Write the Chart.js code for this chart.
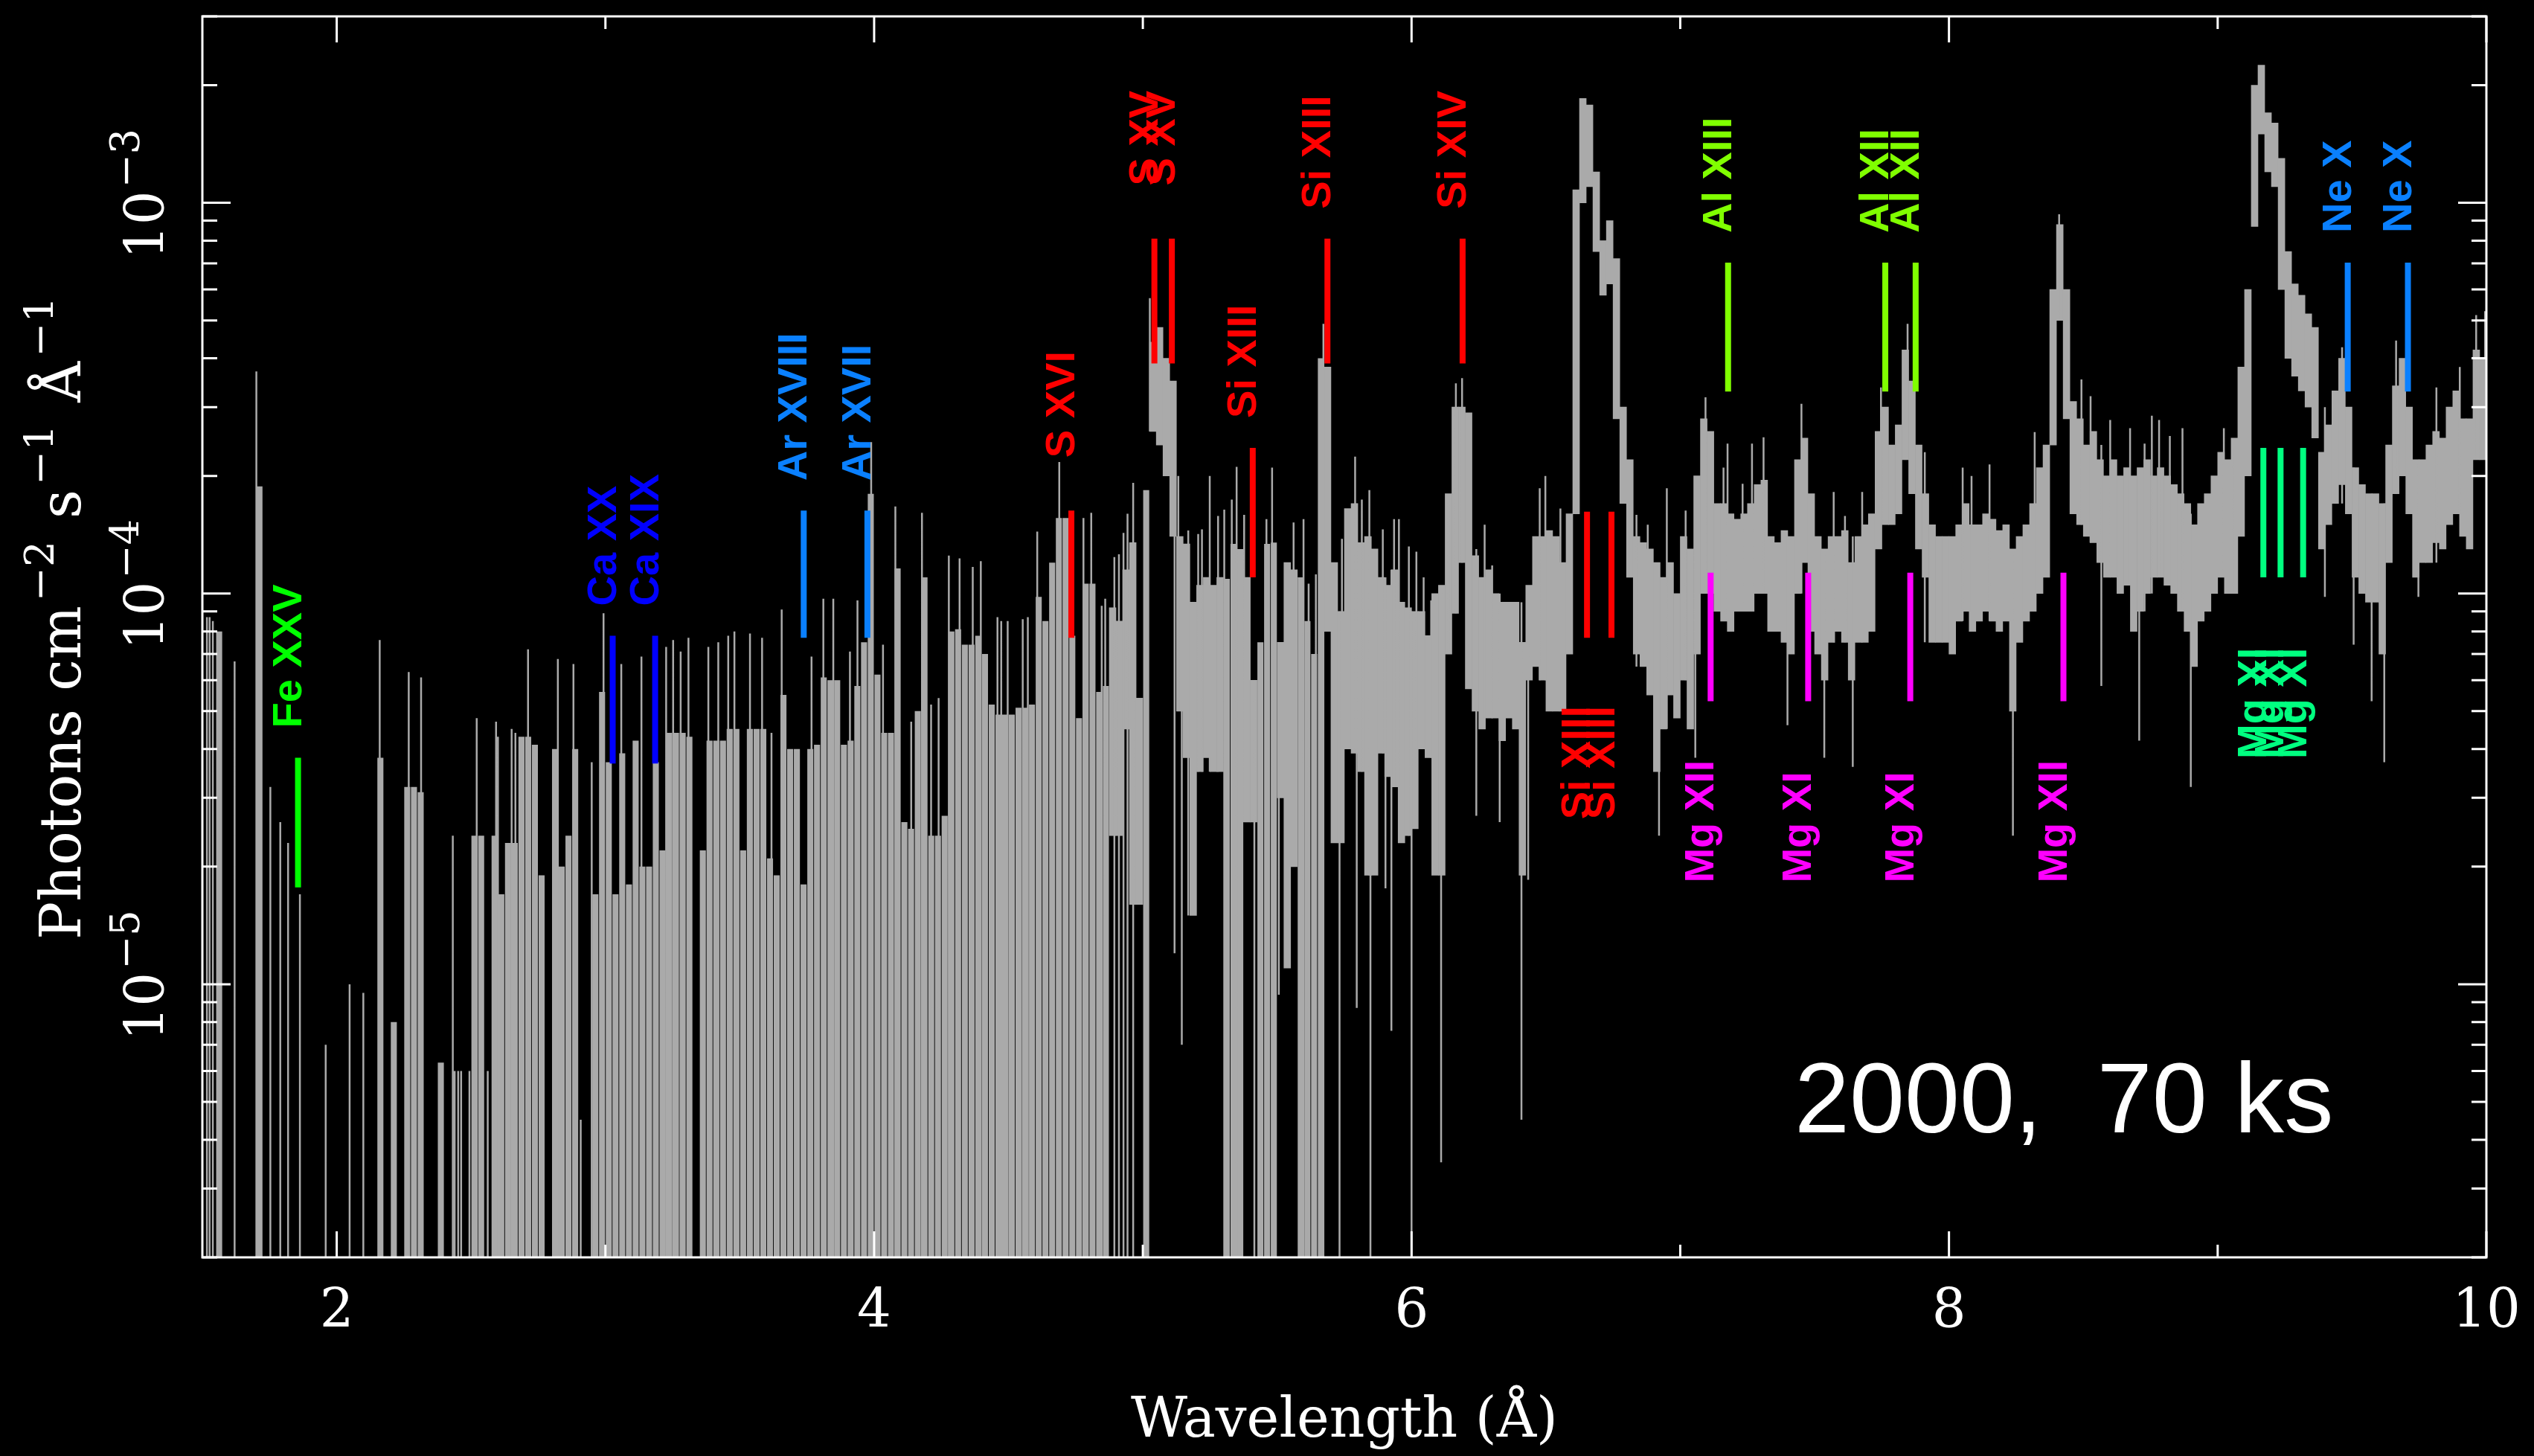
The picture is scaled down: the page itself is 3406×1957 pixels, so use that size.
<!DOCTYPE html>
<html lang="en">
<head>
<meta charset="UTF-8">
<title>Spectrum 2000, 70 ks</title>
<style>
  html, body { margin: 0; padding: 0; background: #000; }
  #wrap { width: 3406px; height: 1957px; }
</style>
</head>
<body>
<div id="wrap"><canvas id="spec" width="3406" height="1957"></canvas></div>
<script src="https://cdn.jsdelivr.net/npm/chart.js@4"></script>
<script>
// spectrum, binned at 0.025 A from 1.5 A; fluxes in units of 1e-5 photons cm^-2 s^-1 A^-1
// each bin is drawn as its error range [lo, hi]; lo = 0 means the bar runs off the bottom
const binStart = 1.5;
const binWidth = 0.025;
const fluxUnit = 1e-5;

const bandHi = [
  null, null, 8, null, null, null, null, null, 18.8, null,        // 1.50
  null, null, null, null, null, null, null, null, null, null,     // 1.75
  null, null, null, null, null, null, 3.8, null, 0.8, null,       // 2.00
  3.2, 3.2, 3.1, null, null, 0.63, null, null, null, null,        // 2.25
  2.4, 2.4, null, 2.4, 1.7, 2.3, 2.3, 4.3, 4.3, 4.1,              // 2.50
  1.9, null, 4.0, 2.0, 2.4, 4.0, null, null, 1.7, 5.6,            // 2.75
  3.7, 1.7, 3.9, 1.8, 4.2, 2.0, 2.0, 3.7, 2.2, 4.4,               // 3.00
  4.4, 4.4, 4.3, null, 2.2, 4.2, 4.2, 4.2, 4.5, 4.5,              // 3.25
  2.2, 4.5, 4.5, 4.5, 2.1, 1.9, 5.5, 4.0, 4.0, 1.8,               // 3.50
  4.0, 4.1, 6.1, 6.0, 6.0, 4.1, 4.2, 5.8, 7.5, 18,                // 3.75
  6.2, 4.4, 4.4, 11.6, 2.6, 2.5, 5.0, 11.0, 2.4, 2.4,             // 4.00
  2.7, 8.0, 8.1, 7.4, 7.4, 7.8, 7.0, 5.2, 4.9, 4.9,               // 4.25
  4.9, 5.1, 5.1, 5.2, 9.8, 8.5, 12, 15.6, 15.6, 7.8,              // 4.50
  4.8, 10.6, 10.6, 5.6, 5.8, 9.2, 8.5, 11.5, 13.5, 5.4,           // 4.75
  18.4, 44, 48, 40, 35, 14, 13.4, 9.5, 10.5, 11,                  // 5.00
  10.5, 11, 10.9, 13.4, 13, 11, 6.0, 7.5, 13.4, 13.5,             // 5.25
  7.5, 12, 11.5, 11, 8.5, 7, 40, 38, 12, 9,                       // 5.50
  16.5, 17, 13.5, 14, 13, 11, 10.5, 11.5, 9.5, 9.2,               // 5.75
  9, 9, 7.8, 10, 10.5, 18, 30, 30, 29, 12.5,                      // 6.00
  11, 11.5, 10, 9.5, 9.5, 9.5, 7.5, 10.5, 14, 14,                 // 6.25
  14.5, 14, 12, 16, 108, 185, 178, 120, 80, 90,                   // 6.50
  72, 30, 22, 14, 13.5, 13, 12, 11, 12, 10,                       // 6.75
  14, 13, 20, 28, 26, 17, 17, 16, 15.5, 16,                       // 7.00
  17, 19, 19.5, 14, 13.5, 14.5, 14, 22, 25, 18,                   // 7.25
  14, 13, 14, 14, 14.5, 12, 14, 15, 16, 26,                       // 7.50
  30, 24, 27, 42, 35, 24, 18, 15, 14, 14,                         // 7.75
  14, 15, 17, 15, 15, 16, 15.5, 14.5, 15, 13,                     // 8.00
  14, 15, 17, 21, 24, 60, 88, 60, 31, 28,                         // 8.25
  24, 26, 22, 20, 22, 20, 21, 20, 21, 22,                         // 8.50
  20, 21, 20, 19, 18, 17, 15, 17, 18, 20,                         // 8.75
  23, 22, 25, 38, 60, 200, 225, 170, 160, 130,                    // 9.00
  75, 62, 58, 52, 48, 23, 27, 33, 40, 30,                         // 9.25
  21, 19, 18, 18, 17, 24, 34, 40, 30, 22,                         // 9.50
  22, 24, 26, 25, 30, 33, 28, 28, 42, 40                          // 9.75
];

const bandLo = [
  0, 0, 0, 0, 0, 0, 0, 0, 0, 0,             // 1.50
  0, 0, 0, 0, 0, 0, 0, 0, 0, 0,             // 1.75
  0, 0, 0, 0, 0, 0, 0, 0, 0, 0,             // 2.00
  0, 0, 0, 0, 0, 0, 0, 0, 0, 0,             // 2.25
  0, 0, 0, 0, 0, 0, 0, 0, 0, 0,             // 2.50
  0, 0, 0, 0, 0, 0, 0, 0, 0, 0,             // 2.75
  0, 0, 0, 0, 0, 0, 0, 0, 0, 0,             // 3.00
  0, 0, 0, 0, 0, 0, 0, 0, 0, 0,             // 3.25
  0, 0, 0, 0, 0, 0, 0, 0, 0, 0,             // 3.50
  0, 0, 0, 0, 0, 0, 0, 0, 0, 0,             // 3.75
  0, 0, 0, 0, 0, 0, 0, 0, 0, 0,             // 4.00
  0, 0, 0, 0, 0, 0, 0, 0, 0, 0,             // 4.25
  0, 0, 0, 0, 0, 0, 0, 0, 0, 0,             // 4.50
  0, 0, 0, 0, 0, 2.4, 2.4, 4.5, 1.6, 1.6,   // 4.75
  0, 26, 24, 20, 14, 5, 3.8, 1.5, 3.5, 3.8, // 5.00
  3.5, 3.5, 0, 0, 0, 2.6, 2.6, 0, 0, 0,     // 5.25
  3, 1.1, 2, 0, 0, 0, 0, 8, 2.3, 2.3,       // 5.50
  4, 3.9, 3.5, 1.9, 1.9, 3.9, 3.4, 3.2, 2.3, 2.4, // 5.75
  2.5, 4, 3.8, 1.9, 1.9, 7, 8.9, 12, 5.7, 5,      // 6.00
  4.5, 4.8, 4.8, 4.2, 4.8, 4.5, 1.9, 6, 6.5, 6,   // 6.25
  5, 5, 5, 7, 16, 100, 110, 75, 58, 62,           // 6.50
  28, 17, 11, 7, 6.5, 5.5, 3.5, 4.5, 5.5, 4.8,    // 6.75
  6, 4.5, 7, 10, 10, 9, 8.5, 8, 9, 9,             // 7.00
  9, 10, 10, 8, 8, 7.5, 7, 10, 12, 8,             // 7.25
  7, 6, 7.5, 8, 7.5, 6, 7.5, 7.5, 8, 13,          // 7.50
  15, 15, 16, 22, 18, 13, 11, 7.5, 7.5, 7.5,      // 7.75
  7, 8.5, 9, 8, 8.5, 9, 8.5, 8, 8.5, 5,           // 8.00
  7.5, 8.5, 9, 10, 11, 24, 50, 28, 16, 15,        // 8.25
  14, 13.5, 12, 11, 11, 10, 10.5, 8, 9, 10,       // 8.50
  11, 11, 10.5, 10, 9, 8, 6.5, 8.5, 9, 10,        // 8.75
  11, 10, 10, 14, 20, 87, 150, 120, 110, 60,      // 9.00
  40, 36, 33, 30, 25, 13, 15, 17, 19, 16,         // 9.25
  11, 10, 9.5, 9.5, 7, 12, 18, 20, 16, 11,        // 9.50
  12, 12, 13.5, 13, 15, 16, 14, 13, 22, 22        // 9.75
];

// single narrow bins whose error bars stick out of the band
const spikeWave = [
  1.517, 1.527, 1.539, 1.620, 1.701, 1.753, 1.790, 1.819, 1.863, 1.959,
  2.048, 2.099, 2.160, 2.268, 2.314, 2.432, 2.439, 2.452, 2.463, 2.494,
  2.521, 2.562, 2.593, 2.600, 2.651, 2.665, 2.712, 2.823, 2.881, 2.908,
  2.949, 2.993, 3.059, 3.134, 3.226, 3.252, 3.280, 3.309, 3.383, 3.420,
  3.457, 3.480, 3.538, 3.583, 3.618, 3.656, 3.767, 3.811, 3.848, 3.910,
  3.938, 3.989, 4.033, 4.079, 4.138, 4.178, 4.212, 4.240, 4.278, 4.318,
  4.367, 4.397, 4.459, 4.473, 4.497, 4.553, 4.572, 4.607, 4.689, 4.779,
  4.808, 4.847, 4.860, 4.894, 4.911, 4.928, 4.943, 4.964, 5.026, 5.118,
  5.132, 5.145, 5.169, 5.206, 5.220, 5.249, 5.280, 5.303, 5.331, 5.349,
  5.377, 5.415, 5.460, 5.481, 5.506, 5.561, 5.598, 5.617, 5.644, 5.672,
  5.732, 5.741, 5.790, 5.796, 5.815, 5.843, 5.847, 5.893, 5.903, 5.925,
  5.935, 5.953, 5.990, 6.000, 6.018, 6.045, 6.073, 6.110, 6.138, 6.165,
  6.188, 6.241, 6.272, 6.300, 6.328, 6.409, 6.434, 6.477, 6.498, 6.554,
  6.837, 6.879, 6.921, 6.950, 7.020, 7.056, 7.094, 7.161, 7.176, 7.232,
  7.267, 7.310, 7.399, 7.451, 7.536, 7.571, 7.613, 7.642, 7.677, 7.747,
  7.846, 7.910, 8.051, 8.084, 8.151, 8.238, 8.319, 8.410, 8.493, 8.527,
  8.567, 8.600, 8.674, 8.708, 8.728, 8.755, 8.782, 8.822, 8.869, 8.900,
  9.023, 9.057, 9.399, 9.463, 9.506, 9.573, 9.620, 9.664, 9.747, 9.814,
  9.901, 9.962, 9.995
];
const spikeHi = [
  8.7, 8.7, 8.5, 6.7, 37, 3.2, 2.6, 2.3, 1.7, 0.7,
  1.0, 0.95, 7.6, 6.3, 6.1, 2.4, 0.6, 0.6, 0.6, 0.6,
  4.8, 0.6, 4.7, 4.3, 4.5, 4.4, 7.2, 6.8, 6.6, 0.45,
  3.7, 8.9, 6.6, 6.9, 7.3, 7.6, 7.1, 7.7, 7.3, 7.5,
  7.8, 8.0, 7.9, 7.7, 4.4, 9.1, 6.9, 9.7, 9.7, 7.1,
  9.6, 24.4, 7.4, 16.7, 4.7, 16.1, 5.2, 5.4, 12.5, 12.3,
  11.7, 12.1, 8.7, 8.5, 8.5, 8.6, 8.7, 14.4, 21.7, 15.6,
  16.1, 9.3, 9.7, 12.4, 12.6, 14.3, 16, 19.2, 57, 14,
  20, 13, 14.5, 14.2, 14.6, 20, 15.8, 16.4, 17.4, 21.1,
  15.9, 6, 15.5, 21, 7.5, 15.2, 15.5, 10.6, 11.2, 49,
  9, 13.8, 22.4, 17, 17.4, 18.4, 14, 14.6, 11, 11.5,
  15.5, 15.5, 13.2, 9, 12.8, 11, 9.6, 10, 17.4, 34.5,
  35.6, 13, 15, 11.8, 10, 9.5, 7.5, 18.6, 20, 16.5,
  15.9, 15, 12, 18.6, 16.3, 13, 31.8, 21, 24.2, 19.1,
  24.2, 25.1, 14, 30.6, 13, 18.2, 15.8, 14, 18.2, 33.7,
  49, 23, 21, 20, 21.4, 13, 25.9, 93.5, 35.3, 32,
  24, 27.8, 26.5, 20, 24.2, 28.5, 27.8, 25.3, 26.5, 16,
  26.5, 23.6, 30, 42.7, 21, 18, 17, 44.4, 22, 33.7,
  38, 51.6, 52.8
];
const spikeLo = [
  0, 0, 0, 0, 0, 0, 0, 0, 0, 0,
  0, 0, 0, 0, 0, 0, 0, 0, 0, 0,
  0, 0, 0, 0, 0, 0, 0, 0, 0, 0,
  0, 0, 0, 0, 0, 0, 0, 0, 0, 0,
  0, 0, 0, 0, 0, 0, 0, 0, 0, 0,
  0, 0, 0, 0, 0, 0, 0, 0, 0, 0,
  0, 0, 0, 0, 0, 0, 0, 0, 0, 0,
  0, 0, 0, 0, 0, 0, 0, 0, 26, 1.2,
  5, 0.7, 1.5, 3.5, 3.5, 3.5, 3.5, 0, 0, 0,
  2.6, 0, 0, 0, 0.94, 2, 0, 0, 0, 0,
  0, 2.3, 4, 0.87, 3.5, 1.9, 0, 3.9, 1.76, 0.76,
  3.2, 2.3, 2.4, 0, 2.5, 4, 3.8, 0.35, 7, 8.9,
  12, 2.7, 4.8, 4.8, 2.6, 0.45, 1.85, 6, 6, 5,
  6.5, 5.5, 2.4, 4.5, 6, 3.8, 10, 9, 8.5, 9,
  9, 10, 4.6, 10, 3.8, 7.5, 7.5, 3.6, 7.5, 13,
  22, 7.5, 8.5, 8.5, 8.5, 2.4, 10, 50, 15, 13.5,
  5.8, 11, 10.5, 4.2, 9, 10, 11, 10.5, 9, 3.2,
  11, 10, 9.8, 17, 7.4, 5.3, 3.7, 18, 9.8, 12,
  16, 22, 22
];

// line identifications
const GREEN = '#00ff00', BLUE = '#0000ff', SKY = '#0a80ff', RED = '#ff0000',
      LIME = '#80ff00', MAGENTA = '#ff00ff', SPRING = '#00ff80';
const lineNames = ['Fe XXV', 'Ca XX', 'Ca XIX', 'Ar XVIII', 'Ar XVII', '  S XVI', '  S XV', '  S XV',
  'Si XIII', 'Si XIII', 'Si XIV', 'Si XIII', 'Si XIII', 'Mg XII', 'Al XIII', 'Mg XI', 'Al XII',
  'Mg XI', 'Al XII', 'Mg XII', 'Mg XI', 'Mg XI', 'Mg XI', 'Ne X', 'Ne X'];
const lineWaves = [1.856, 3.027, 3.185, 3.738, 3.975, 4.734, 5.043, 5.108, 5.409, 5.687, 6.190,
  6.653, 6.744, 7.113, 7.178, 7.476, 7.763, 7.856, 7.876, 8.426, 9.170, 9.234, 9.318, 9.484, 9.708];
const lineLo = [1.77, 3.67, 3.67, 7.7, 7.7, 7.7, 38.8, 38.8, 11.0, 38.8, 38.8, 7.7, 7.7, 5.3, 32.9,
  5.3, 32.9, 5.3, 32.9, 5.3, 11.0, 11.0, 11.0, 32.9, 32.9];
const lineHi = [3.8, 7.8, 7.8, 16.3, 16.3, 16.3, 81, 81, 23.6, 81, 81, 16.2, 16.2, 11.3, 70.3,
  11.3, 70.3, 11.3, 70.3, 11.3, 23.6, 23.6, 23.6, 70.3, 70.3];
const lineColors = [GREEN, BLUE, BLUE, SKY, SKY, RED, RED, RED, RED, RED, RED, RED, RED, MAGENTA, LIME,
  MAGENTA, LIME, MAGENTA, LIME, MAGENTA, SPRING, SPRING, SPRING, SKY, SKY];
const lineSide = ['up', 'up', 'up', 'up', 'up', 'up', 'up', 'up', 'up', 'up', 'up', 'down', 'down',
  'down', 'up', 'down', 'up', 'down', 'up', 'down', 'down', 'down', 'down', 'up', 'up'];

const xTickValues = [2, 4, 6, 8, 10];
const xTickLabels = ['2', '4', '6', '8', '10'];
const yTickExponents = [-5, -4, -3];
const xTitle = 'Wavelength (Å)';
const yTitleParts = [['Photons cm', 0], ['−2', 1], [' s', 0], ['−1', 1], [' Å', 0], ['−1', 1]];
const note = '2000,  70 ks';

const FLOOR = 1e-7; // below the axis, so zero-reaching bars run off the bottom
function flux(v) { return v > 0 ? v * fluxUnit : FLOOR; }

// bins whose error bar reaches zero are drawn a touch narrower, leaving thin dark seams
const openBins = [];
const closedBins = [];
bandHi.forEach((hi, i) => {
  if (hi === null) return;
  const pt = { x: binStart + binWidth * (i + 0.5), y: [flux(bandLo[i]), flux(hi)] };
  (bandLo[i] > 0 ? closedBins : openBins).push(pt);
});

const spikeData = [];
spikeWave.forEach((w, i) => {
  spikeData.push({ x: w, y: flux(spikeLo[i]) }, { x: w, y: flux(spikeHi[i]) }, { x: w, y: null });
});

const markerData = [];
lineWaves.forEach((w, i) => {
  markerData.push({ x: w, y: flux(lineLo[i]) }, { x: w, y: flux(lineHi[i]) }, { x: w, y: null });
});

const SERIF = '"DejaVu Serif", serif';

const framePlugin = {
  id: 'frame',
  afterDatasetsDraw(chart) {
    const { ctx, chartArea: a, scales: { x, y } } = chart;
    ctx.save();
    ctx.strokeStyle = '#fff';
    ctx.fillStyle = '#fff';
    ctx.lineWidth = 3;
    ctx.strokeRect(a.left, a.top, a.right - a.left, a.bottom - a.top);

    // x ticks, inward on top and bottom
    ctx.beginPath();
    for (let v = 2; v <= 10; v++) {
      const px = x.getPixelForValue(v);
      const len = v % 2 === 0 ? 35 : 17;
      ctx.moveTo(px, a.bottom); ctx.lineTo(px, a.bottom - len);
      ctx.moveTo(px, a.top); ctx.lineTo(px, a.top + len);
    }
    // y ticks, log decades with minor ticks, both sides
    for (let e = -6; e <= -3; e++) {
      for (let m = 1; m <= 9; m++) {
        const v = m * Math.pow(10, e);
        if (v < y.min * 0.999 || v > y.max * 1.001) continue;
        const py = y.getPixelForValue(v);
        const len = m === 1 ? 38 : 20;
        ctx.moveTo(a.left, py); ctx.lineTo(a.left + len, py);
        ctx.moveTo(a.right, py); ctx.lineTo(a.right - len, py);
      }
    }
    ctx.stroke();

    // x tick labels and title
    ctx.textAlign = 'center';
    ctx.textBaseline = 'alphabetic';
    ctx.font = '72px ' + SERIF;
    xTickValues.forEach((v, i) => ctx.fillText(xTickLabels[i], x.getPixelForValue(v), a.bottom + 94));
    ctx.font = '74px ' + SERIF;
    ctx.fillText(xTitle, (a.left + a.right) / 2, a.bottom + 241);

    // y tick labels, rotated, 10 with superscript exponent
    ctx.textAlign = 'left';
    yTickExponents.forEach(e => {
      const py = y.getPixelForValue(Math.pow(10, e));
      ctx.font = '72px ' + SERIF;
      const wBase = ctx.measureText('10').width;
      ctx.font = '54px ' + SERIF;
      const sup = '−' + Math.abs(e);
      const wSup = ctx.measureText(sup).width;
      const w = wBase + wSup + 4;
      ctx.save();
      ctx.translate(a.left - 52, py - 12);
      ctx.rotate(-Math.PI / 2);
      ctx.font = '72px ' + SERIF;
      ctx.fillText('10', -w / 2, 0);
      ctx.font = '54px ' + SERIF;
      ctx.fillText(sup, -w / 2 + wBase + 4, -33);
      ctx.restore();
    });

    // y title
    ctx.save();
    ctx.translate(a.left - 164, a.bottom - 427);
    ctx.rotate(-Math.PI / 2);
    let pos = 0;
    yTitleParts.forEach(([t, isSup]) => {
      ctx.font = (isSup ? '55px ' : '76px ') + SERIF;
      ctx.fillText(t, pos, isSup ? -36 : 0);
      pos += ctx.measureText(t).width + 6;
    });
    ctx.restore();

    // line labels, rotated, above or below their markers
    ctx.font = 'bold 56px "Liberation Sans", Arial, sans-serif';
    lineNames.forEach((name, i) => {
      const px = x.getPixelForValue(lineWaves[i]);
      const start = lineSide[i] === 'up'
        ? y.getPixelForValue(flux(lineHi[i])) - 40
        : y.getPixelForValue(flux(lineLo[i])) + 244;
      ctx.save();
      ctx.fillStyle = lineColors[i];
      ctx.translate(px + 4, start);
      ctx.rotate(-Math.PI / 2);
      ctx.fillText(name, 0, 0);
      ctx.restore();
    });

    // observation note
    ctx.font = '133px "Liberation Sans", Arial, sans-serif';
    ctx.fillStyle = '#fff';
    ctx.fillText(note, a.left + 2140, a.bottom - 168);
    ctx.restore();
  }
};

new Chart(document.getElementById('spec'), {
  type: 'bar',
  data: {
    datasets: [
      {
        type: 'line', label: 'line markers', data: markerData, order: 0,
        borderWidth: 8, borderCapStyle: 'butt', pointRadius: 0, clip: 0,
        borderColor: GREEN,
        segment: { borderColor: c => lineColors[Math.floor(c.p0DataIndex / 3)] }
      },
      {
        type: 'line', label: 'single bins', data: spikeData, order: 1,
        borderWidth: 2.5, borderCapStyle: 'butt', borderColor: '#aaaaaa', pointRadius: 0, clip: 0
      },
      {
        type: 'bar', label: 'spectrum', data: closedBins, order: 2,
        backgroundColor: '#aaaaaa', borderWidth: 0, barPercentage: 1, categoryPercentage: 1,
        grouped: false, clip: 0
      },
      {
        type: 'bar', label: 'spectrum (to zero)', data: openBins, order: 3,
        backgroundColor: '#aaaaaa', borderWidth: 0, barPercentage: 0.9, categoryPercentage: 1,
        inflateAmount: 0, grouped: false, clip: 0
      }
    ]
  },
  options: {
    responsive: false,
    devicePixelRatio: 1,
    animation: false,
    events: [],
    layout: { padding: { left: 272, right: 64, top: 22, bottom: 267 } },
    plugins: { legend: { display: false }, tooltip: { enabled: false } },
    scales: {
      x: { type: 'linear', min: 1.5, max: 10, offset: false, bounds: 'data', display: false },
      y: { type: 'logarithmic', min: 2e-6, max: 3e-3, display: false }
    }
  },
  plugins: [framePlugin]
});
</script>
</body>
</html>
